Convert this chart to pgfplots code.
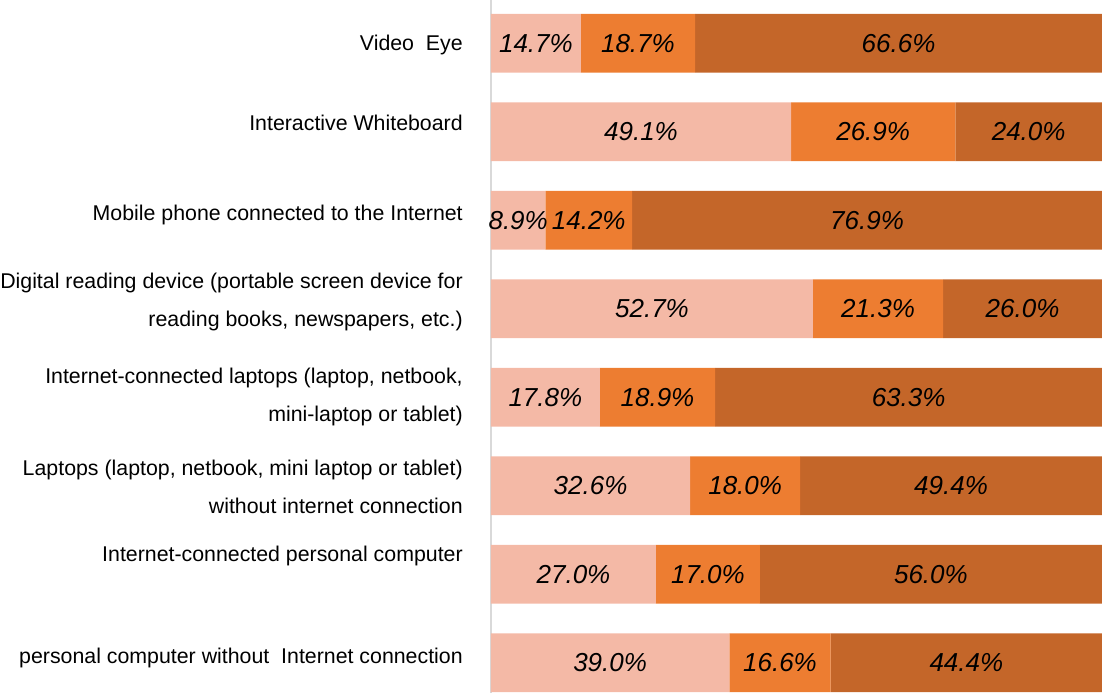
\documentclass[border=0pt]{standalone}
\usepackage{fontspec}
\setmainfont{Liberation Sans}
\usepackage{pgfplots}
\pgfplotsset{compat=1.18}
\definecolor{seglight}{RGB}{244,185,166}
\definecolor{segmid}{RGB}{237,125,49}
\definecolor{segdark}{RGB}{196,102,41}
\definecolor{axgrey}{RGB}{217,217,217}
\tikzset{vlab/.style={font=\fontsize{19.5}{22}\selectfont\itshape, inner sep=0pt, text=black}}

\begin{document}
\begin{tikzpicture}
\begin{axis}[
  width=458.25pt, height=519.75pt, scale only axis,
  xbar stacked, bar width=0.663,
  xmin=0, xmax=100, ymin=-0.342, ymax=7.489, enlargelimits=false,
  axis x line=none, axis y line*=left,
  axis line style={-, axgrey, line width=1.5pt},
  ytick={0.053,1.206,1.991,3.008,4.082,5.054,6.099,6.975},
  yticklabels={personal computer without\ \ Internet connection,
    Internet-connected personal computer,
    {Laptops (laptop, netbook, mini laptop or tablet)\\without internet connection},
    {Internet-connected laptops (laptop, netbook,\\mini-laptop or tablet)},
    {Digital reading device (portable screen device for\\reading books, newspapers, etc.)},
    Mobile phone connected to the Internet,
    Interactive Whiteboard,
    Video\ \ Eye},
  major tick length=0pt,
  yticklabel style={align=right, font=\fontsize{16}{28.5}\selectfont, inner sep=0pt, xshift=-21pt},
  clip=false,
]
% share 1 (light)
\addplot[fill=seglight, draw=none] coordinates
  {(39.0,0) (27.0,1) (32.6,2) (17.8,3) (52.7,4) (8.9,5) (49.1,6) (14.7,7)};
% share 2 (orange)
\addplot[fill=segmid, draw=none] coordinates
  {(16.6,0) (17.0,1) (18.0,2) (18.9,3) (21.3,4) (14.2,5) (26.9,6) (18.7,7)};
% share 3 (dark)
\addplot[fill=segdark, draw=none] coordinates
  {(44.4,0) (56.0,1) (49.4,2) (63.3,3) (26.0,4) (76.9,5) (24.0,6) (66.6,7)};
\end{axis}
% value labels, centred in each segment (same frame as the bars)
\begin{axis}[
  width=458.25pt, height=519.75pt, scale only axis,
  xmin=0, xmax=100, ymin=-0.342, ymax=7.489, enlargelimits=false,
  hide axis, clip=false,
]
\node[vlab] at (axis cs:7.35,7) {14.7\%};
\node[vlab] at (axis cs:24.05,7) {18.7\%};
\node[vlab] at (axis cs:66.7,7) {66.6\%};
\node[vlab] at (axis cs:24.55,6) {49.1\%};
\node[vlab] at (axis cs:62.55,6) {26.9\%};
\node[vlab] at (axis cs:88.0,6) {24.0\%};
\node[vlab] at (axis cs:4.45,5) {8.9\%};
\node[vlab] at (axis cs:16.0,5) {14.2\%};
\node[vlab] at (axis cs:61.55,5) {76.9\%};
\node[vlab] at (axis cs:26.35,4) {52.7\%};
\node[vlab] at (axis cs:63.35,4) {21.3\%};
\node[vlab] at (axis cs:87.0,4) {26.0\%};
\node[vlab] at (axis cs:8.9,3) {17.8\%};
\node[vlab] at (axis cs:27.25,3) {18.9\%};
\node[vlab] at (axis cs:68.35,3) {63.3\%};
\node[vlab] at (axis cs:16.3,2) {32.6\%};
\node[vlab] at (axis cs:41.6,2) {18.0\%};
\node[vlab] at (axis cs:75.3,2) {49.4\%};
\node[vlab] at (axis cs:13.5,1) {27.0\%};
\node[vlab] at (axis cs:35.5,1) {17.0\%};
\node[vlab] at (axis cs:72.0,1) {56.0\%};
\node[vlab] at (axis cs:19.5,0) {39.0\%};
\node[vlab] at (axis cs:47.3,0) {16.6\%};
\node[vlab] at (axis cs:77.8,0) {44.4\%};
\end{axis}
\pgfresetboundingbox
\path (current axis.south west) ++(-368.25pt,0pt) rectangle (current axis.north east);
\end{tikzpicture}
\end{document}
